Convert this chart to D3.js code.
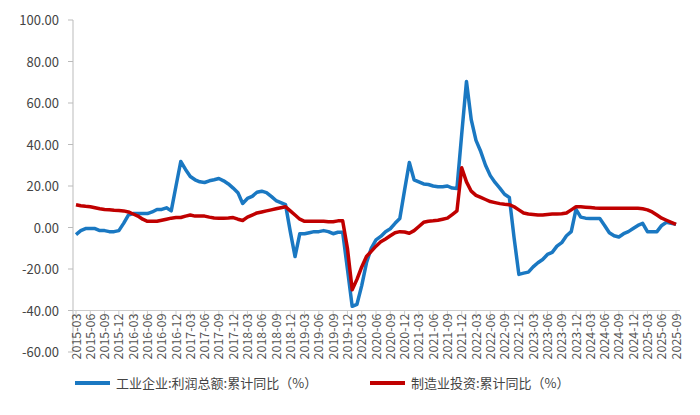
<!DOCTYPE html>
<html><head><meta charset="utf-8">
<script src="https://cdn.jsdelivr.net/npm/d3@7"></script>
<style>body{margin:0;background:#fff}svg{display:block}</style>
</head><body><svg id="chart" width="700" height="415"></svg>
<script>
// monthly categories 2015-03 .. 2025-09
const months = [];
for (let y = 2015; y <= 2025; y++) for (let m = 1; m <= 12; m++) {
  if ((y === 2015 && m < 3) || (y === 2025 && m > 9)) continue;
  months.push(`${y}-${String(m).padStart(2, "0")}`);
}
const profit = [-3.4,-1.5,-0.5,-0.5,-0.5,-1.5,-1.5,-2,-2,-1.5,2,6,6.7,6.7,6.7,6.7,7.5,8.7,8.7,9.5,8,20,31.8,28,24.6,23,22,21.7,22.5,23,23.6,22.5,21,19,16.8,11.6,14,15,17,17.5,16.8,15,13,12,11,-2,-14,-3,-3,-2.5,-2,-2,-1.5,-2,-3,-2.3,-2.3,-20,-38,-37,-28,-17,-10,-6,-4.3,-2,-0.6,2,4.3,18,31.3,23,22,21,20.7,20,19.6,19.6,20,19,18.8,45,70.4,52,42,36.6,30,25,21.7,19,16,14.5,-5,-22.6,-22,-21.5,-19,-17,-15.4,-13,-12,-9,-7.3,-4,-2,8.7,5,4.5,4.3,4.3,4.3,1,-2.5,-4,-4.6,-3,-2,-0.5,1,2,-2,-2,-2,1,2.5,2,1.5];
const invest = [11,10.5,10.2,10,9.5,9,8.7,8.5,8.3,8.2,8,7.5,6.5,5.5,4,3,3,3,3.5,4,4.5,4.8,4.8,5.5,6,5.5,5.5,5.5,5,4.6,4.5,4.5,4.6,4.8,4,3.4,5,6,7,7.5,8,8.5,9,9.5,10,8,6,4,3,3,3,3,3,2.8,2.8,3.2,3.2,-10,-30,-25,-19,-14,-11.5,-9,-6.9,-5.5,-4,-2.5,-2,-2.2,-2.8,-1.5,0.5,2.5,3,3.2,3.5,4,4.5,6.2,8,28.8,22,17.5,15.5,14.5,13.5,12.5,12,11.5,11.2,11,10,8.5,7,6.5,6.3,6,6,6.3,6.5,6.5,6.6,7,8.5,10,10,9.8,9.6,9.4,9.3,9.3,9.3,9.3,9.3,9.3,9.3,9.3,9.3,9,8.5,7.5,6,4.5,3.5,2.5,1.5];
const yTicks = [100,80,60,40,20,0,-20,-40,-60];
const seriesNames = ["工业企业:利润总额:累计同比（%）", "制造业投资:累计同比（%）"];
const colors = ["#1a78c2", "#c00000"];

const svg = d3.select("#chart");
const font = "'Noto Sans CJK SC', 'DejaVu Sans', sans-serif";
const x = d3.scalePoint().domain(months).range([76, 676]);
const y = d3.scaleLinear().domain([-60, 100]).range([352, 20]);

// y axis
svg.append("line").attr("x1", 73).attr("x2", 73).attr("y1", y(100)).attr("y2", y(-60))
  .attr("stroke", "#bbb");
svg.append("g").selectAll("line").data(yTicks).join("line")
  .attr("x1", 68).attr("x2", 73).attr("y1", d => y(d)).attr("y2", d => y(d)).attr("stroke", "#bbb");
svg.append("g").selectAll("text").data(yTicks).join("text")
  .attr("x", 59).attr("y", d => y(d) + 5).attr("text-anchor", "end")
  .attr("font-family", font).attr("font-size", 13).attr("fill", "#444")
  .text(d => d.toFixed(2));

// category axis crossing at -40
const ax = y(-40);
svg.append("line").attr("x1", 73).attr("x2", 680).attr("y1", ax).attr("y2", ax).attr("stroke", "#ccc");
const labeled = months.filter((m, i) => i % 3 === 0);
svg.append("g").selectAll("line").data(labeled).join("line")
  .attr("x1", d => x(d)).attr("x2", d => x(d)).attr("y1", ax).attr("y2", ax + 5).attr("stroke", "#ccc");
svg.append("g").selectAll("text").data(labeled).join("text")
  .attr("transform", d => `translate(${x(d) + 4.5},${ax + 3}) rotate(-90)`)
  .attr("text-anchor", "end").attr("font-family", font).attr("font-size", 12.5).attr("fill", "#555")
  .text(d => d);

// lines
const line = d3.line().x((d, i) => x(months[i])).y(d => y(d));
[profit, invest].forEach((s, k) => {
  svg.append("path").datum(s).attr("d", line).attr("fill", "none")
    .attr("stroke", colors[k]).attr("stroke-width", 3.5).attr("stroke-linejoin", "round");
});

// legend
const lx = [75, 370];
seriesNames.forEach((n, k) => {
  svg.append("line").attr("x1", lx[k]).attr("x2", lx[k] + 35).attr("y1", 383).attr("y2", 383)
    .attr("stroke", colors[k]).attr("stroke-width", 4);
  svg.append("text").attr("x", lx[k] + 41).attr("y", 388).attr("font-family", font)
    .attr("font-size", 13).attr("fill", "#444").text(n);
});
</script></body></html>
